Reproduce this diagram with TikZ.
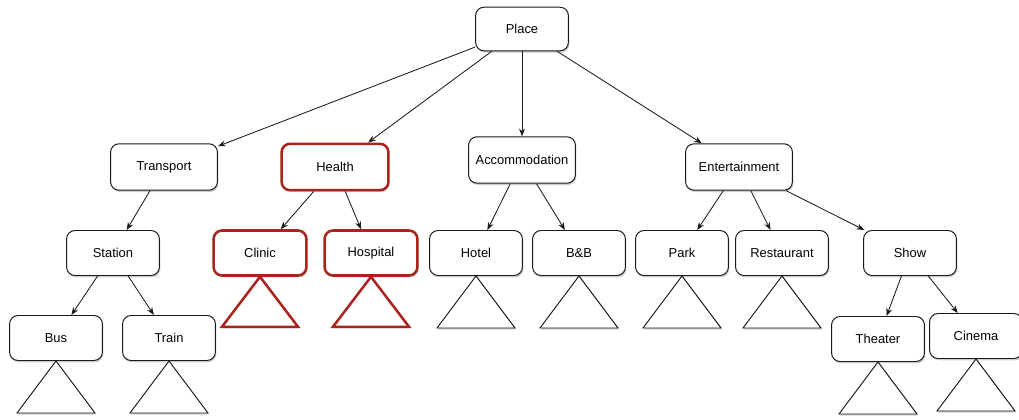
\documentclass[tikz,border=0pt]{standalone}
\usepackage{fontspec}
\setmainfont{Liberation Sans}
\usepackage{xcolor}
\usepackage{tikz}
\usetikzlibrary{arrows.meta,shadows}
\definecolor{ink}{HTML}{1A1A1A}
\definecolor{brick}{HTML}{A8241C}
\tikzset{
  box/.style={rectangle, rounded corners=6pt, draw=ink, fill=white, line width=0.7pt,
              minimum width=66pt, minimum height=32pt, align=center,
              font=\fontsize{9.2}{11}\selectfont,
              drop shadow={opacity=0.4, shadow xshift=0.7pt, shadow yshift=-1.3pt}},
  widebox/.style={box, minimum width=76pt, minimum height=33pt},
  hlbox/.style={draw=brick, line width=1.8pt},
  tri/.style={draw=ink, fill=white, line width=0.7pt, line join=miter,
              drop shadow={opacity=0.35, shadow xshift=0.6pt, shadow yshift=-1.2pt}},
  hltri/.style={tri, draw=brick, line width=1.8pt},
  flow/.style={-{Stealth[length=5.5pt,width=4.2pt]}, draw=ink, line width=0.6pt},
}
\begin{document}
\begin{tikzpicture}[x=0.025cm,y=-0.025cm]
\useasboundingbox (0,0) rectangle (1019,420);

% top
\node[box, minimum height=31pt] (place) at (522,29) {Place};

% second level
\node[widebox]        (trans)  at (164,167) {Transport};
\node[widebox,hlbox]  (health) at (335,167) {Health};
\node[widebox]        (acc)    at (522,160) {Accommodation};
\node[widebox]        (ent)    at (739,167) {Entertainment};

% third level
\node[box]       (stat)  at (113,253) {Station};
\node[box,hlbox] (clin)  at (260,253) {Clinic};
\node[box,hlbox] (hosp)  at (371,253) {Hospital};
\node[box]       (hotel) at (476,253) {Hotel};
\node[box]       (bnb)   at (579,253) {B\&B};
\node[box]       (park)  at (682,253) {Park};
\node[box]       (rest)  at (782,253) {Restaurant};
\node[box]       (show)  at (910,253) {Show};

% fourth level
\node[box] (bus)   at (56,338)  {Bus};
\node[box] (train) at (169,338) {Train};
\node[box] (theat) at (878,339) {Theater};
\node[box] (cine)  at (976,336) {Cinema};

\draw[flow](place)--(trans); \draw[flow](place)--(health);
\draw[flow](place)--(acc);   \draw[flow](place)--(ent);
\draw[flow](trans)--(stat);
\draw[flow](health)--(clin); \draw[flow](health)--(hosp);
\draw[flow](acc)--(hotel);   \draw[flow](acc)--(bnb);
\draw[flow](ent)--(park);    \draw[flow](ent)--(rest); \draw[flow](ent)--(show);
\draw[flow](stat)--(bus);    \draw[flow](stat)--(train);
\draw[flow](show)--(theat);  \draw[flow](show)--(cine);

% subtrees
\foreach \n in {bus,train,hotel,bnb,park,rest,theat,cine}
  \draw[tri] (\n.south) -- ++(-39,52) -- ++(78,0) -- cycle;
\foreach \n in {clin,hosp}
  \draw[hltri] (\n.south) -- ++(-38,50) -- ++(76,0) -- cycle;
\end{tikzpicture}
\end{document}
